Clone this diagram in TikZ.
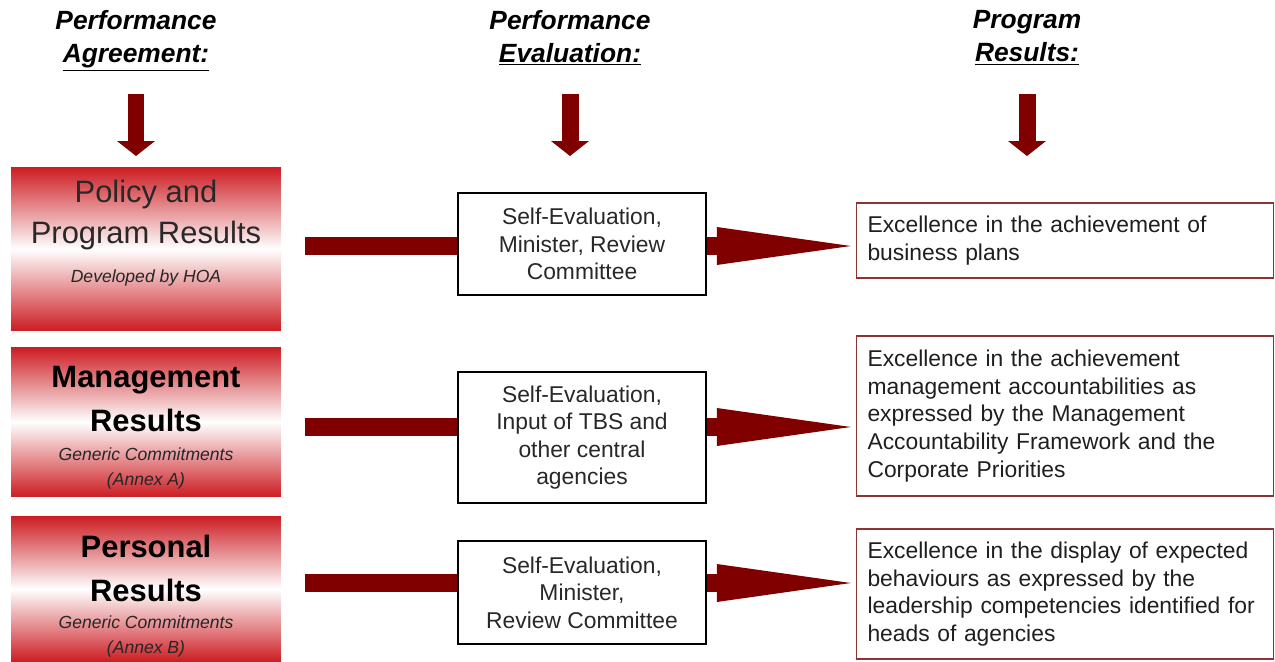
\documentclass[tikz,border=0pt]{standalone}
\usepackage{fontspec}
\setmainfont{Liberation Sans}
\usetikzlibrary{arrows.meta}

\definecolor{arrowred}{RGB}{128,0,0}
\definecolor{boxred}{RGB}{204,28,34}
\definecolor{edgered}{RGB}{140,52,52}
\definecolor{textgray}{RGB}{40,40,40}

\begin{document}
\begin{tikzpicture}[x=0.02cm, y=-0.02cm,
            header/.style={align=center, text depth=0.16cm,
            font=\fontsize{15}{18.8}\selectfont\bfseries\itshape},
            leftbox/.style={rectangle, minimum width=5.4cm, inner sep=0pt,
            top color=boxred, bottom color=boxred, middle color=white},
            policytitle/.style={align=center, inner sep=0pt, text=textgray,
            font=\fontsize{17.6}{22.8}\selectfont},
            grouptitle/.style={align=center, inner sep=0pt,
            font=\fontsize{17.6}{25}\selectfont\bfseries},
            note/.style={align=center, inner sep=0pt, text=black!85,
            font=\fontsize{10}{14.2}\selectfont\itshape},
            evalbox/.style={rectangle, draw=black, line width=1.4pt, fill=white,
            minimum width=4.96cm, align=center, text=textgray,
            font=\fontsize{13}{15.6}\selectfont},
            resbox/.style={rectangle, draw=edgered, line width=0.85pt, fill=white,
            text width=7.9cm, inner xsep=0.22cm, align=left, text=black!88,
            font=\fontsize{13}{15.8}\selectfont},
            downarrow/.style={draw=arrowred, line width=0.34cm,
            -{Triangle[length=0.3cm, width=0.76cm, line width=0pt]}},
            feedbar/.style={draw=arrowred, line width=0.36cm},
            feedarrow/.style={draw=arrowred, line width=0.36cm, shorten >=0.1cm,
            -{Triangle[length=2.68cm, width=0.76cm, line width=0pt]}}
        ]
            \useasboundingbox (0,0) rectangle (1275,662);

            % column headers
            \node (agreement) [header] at (136,40) {Performance\\\underline{Agreement:}};
            \node (evaluation) [header] at (570,40) {Performance\\\underline{Evaluation:}};
            \node (results) [header] at (1027,40) {Program\\\underline{Results:}};

            \coordinate (agreementtop) at (136,94);
            \coordinate (agreementtip) at (136,156);
            \coordinate (evaluationtop) at (570,94);
            \coordinate (evaluationtip) at (570,156);
            \coordinate (resultstop) at (1027,94);
            \coordinate (resultstip) at (1027,156);
            \draw [downarrow] (agreementtop) -- (agreementtip);
            \draw [downarrow] (evaluationtop) -- (evaluationtip);
            \draw [downarrow] (resultstop) -- (resultstip);

            % performance agreement
            \node (policy) [leftbox, minimum height=3.28cm] at (146,249) {};
            \node (management) [leftbox, minimum height=3cm] at (146,422) {};
            \node (personal) [leftbox, minimum height=2.92cm] at (146,589) {};

            \node (policyname) [policytitle] at (146,215) {Policy and\\Program Results};
            \node (policynote) [note, anchor=base] at (146,283) {Developed by HOA};
            \node (managementname) [grouptitle] at (146,399) {Management\\Results};
            \node (managementnote) [note] at (146,468) {Generic Commitments\\(Annex A)};
            \node (personalname) [grouptitle] at (146,568) {Personal\\Results};
            \node (personalnote) [note] at (146,636) {Generic Commitments\\(Annex B)};

            % performance evaluation
            \node (evalpolicy) [evalbox, minimum height=2.04cm] at (582,244)
                {Self-Evaluation,\\Minister, Review\\Committee};
            \node (evalmanagement) [evalbox, minimum height=2.62cm] at (582,437.5)
                {Self-Evaluation,\\Input of TBS and\\other central\\agencies};
            \node (evalpersonal) [evalbox, minimum height=2.06cm] at (582,592.5)
                {Self-Evaluation,\\Minister,\\Review Committee};

            % program results
            \node (resbusiness) [resbox, minimum height=1.5cm] at (1065,240.5)
                {Excellence in the achievement of\\business plans};
            \node (resmanagement) [resbox, minimum height=3.2cm] at (1065,416)
                {Excellence in the achievement\\management accountabilities as\\expressed by the Management\\Accountability Framework and the\\Corporate Priorities};
            \node (resbehaviour) [resbox, minimum height=2.6cm] at (1065,594)
                {Excellence in the display of expected\\behaviours as expressed by the\\leadership competencies identified for\\heads of agencies};

            \coordinate (policyfeed) at (305,246);
            \coordinate (managementfeed) at (305,427);
            \coordinate (personalfeed) at (305,583);

            \draw [feedbar] (policyfeed) -- (policyfeed -| evalpolicy.west);
            \draw [feedbar] (managementfeed) -- (managementfeed -| evalmanagement.west);
            \draw [feedbar] (personalfeed) -- (personalfeed -| evalpersonal.west);
            \draw [feedarrow] (policyfeed -| evalpolicy.east) -- (policyfeed -| resbusiness.west);
            \draw [feedarrow] (managementfeed -| evalmanagement.east) -- (managementfeed -| resmanagement.west);
            \draw [feedarrow] (personalfeed -| evalpersonal.east) -- (personalfeed -| resbehaviour.west);
        \end{tikzpicture}
\end{document}
